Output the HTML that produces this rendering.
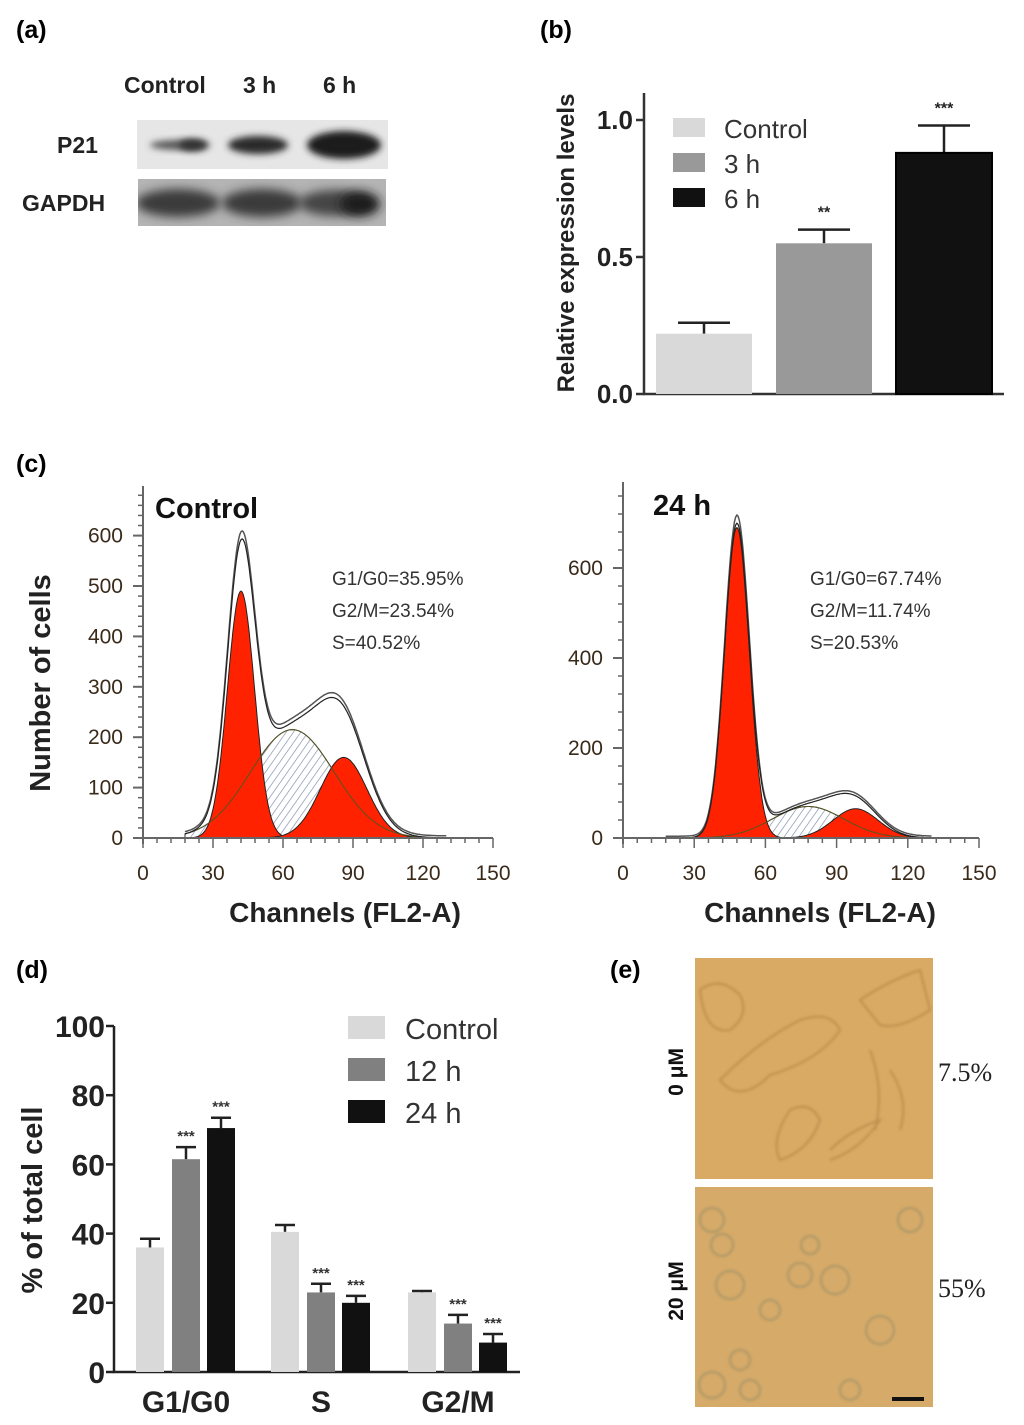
<!DOCTYPE html>
<html><head><meta charset="utf-8"><style>
body{margin:0;background:#fff;}
svg text{font-family:"Liberation Sans",Arial,sans-serif;}
</style></head><body>
<svg id="fig" width="1024" height="1420" viewBox="0 0 1024 1420" xmlns="http://www.w3.org/2000/svg">
<defs>
<filter id="blur3" x="-30%" y="-60%" width="160%" height="220%"><feGaussianBlur stdDeviation="3.5"/></filter>
<filter id="blur5" x="-30%" y="-60%" width="160%" height="220%"><feGaussianBlur stdDeviation="5"/></filter>
<filter id="blur1"><feGaussianBlur stdDeviation="1.2"/></filter>
<pattern id="hatch" width="6" height="6" patternUnits="userSpaceOnUse" patternTransform="rotate(35)"><rect width="6" height="6" fill="#fff"/><line x1="0" y1="0" x2="0" y2="6" stroke="#7a8aa8" stroke-width="1.3"/></pattern>
<clipPath id="clipP21"><rect x="137" y="120" width="251" height="49"/></clipPath>
<clipPath id="clipGAP"><rect x="138" y="179" width="248" height="47"/></clipPath>
</defs>

<!-- Panel a -->
<g>
<text x="16" y="38" font-size="25" font-weight="bold">(a)</text>
<text x="124" y="93" font-size="23" font-weight="bold" fill="#222">Control</text>
<text x="243" y="93" font-size="23" font-weight="bold" fill="#222">3 h</text>
<text x="323" y="93" font-size="23" font-weight="bold" fill="#222">6 h</text>
<text x="57" y="153" font-size="23" font-weight="bold" fill="#222">P21</text>
<text x="22" y="211" font-size="23" font-weight="bold" fill="#222">GAPDH</text>
<g>
<rect x="137" y="120" width="251" height="49" fill="#e6e6e6"/>
<g clip-path="url(#clipP21)">
<ellipse cx="180" cy="145" rx="30" ry="5" fill="#555" filter="url(#blur3)"/>
<ellipse cx="193" cy="145" rx="14" ry="6" fill="#333" filter="url(#blur3)"/>
<ellipse cx="258" cy="145" rx="30" ry="9" fill="#2a2a2a" filter="url(#blur3)"/>
<ellipse cx="344" cy="145" rx="37" ry="14" fill="#1a1a1a" filter="url(#blur3)"/>
</g></g>
<g>
<rect x="138" y="179" width="248" height="47" fill="#b4b4b4"/>
<g clip-path="url(#clipGAP)">
<ellipse cx="178" cy="203" rx="42" ry="14" fill="#3a3a3a" filter="url(#blur5)"/>
<ellipse cx="262" cy="203" rx="40" ry="14" fill="#3a3a3a" filter="url(#blur5)"/>
<ellipse cx="335" cy="203" rx="36" ry="13" fill="#444" filter="url(#blur5)"/>
<ellipse cx="360" cy="204" rx="20" ry="12" fill="#1e1e1e" filter="url(#blur5)"/>
</g></g>
</g>

<!-- Panel b -->
<g id="panelB">
<text x="540" y="38" font-size="25" font-weight="bold">(b)</text>
<text transform="translate(574,243) rotate(-90)" text-anchor="middle" font-size="24" font-weight="bold" fill="#222">Relative expression levels</text>
</g>

<!-- Panel c -->
<g id="panelC">
<text x="16" y="472" font-size="25" font-weight="bold">(c)</text>
<text transform="translate(50,683) rotate(-90)" text-anchor="middle" font-size="29" font-weight="bold" fill="#222">Number of cells</text>
<text x="155" y="518" font-size="29" font-weight="bold" fill="#111">Control</text>
<text x="653" y="515" font-size="29" font-weight="bold" fill="#111">24 h</text>
<text x="332" y="585" font-size="19" fill="#333">G1/G0=35.95%</text>
<text x="332" y="617" font-size="19" fill="#333">G2/M=23.54%</text>
<text x="332" y="649" font-size="19" fill="#333">S=40.52%</text>
<text x="810" y="585" font-size="19" fill="#333">G1/G0=67.74%</text>
<text x="810" y="617" font-size="19" fill="#333">G2/M=11.74%</text>
<text x="810" y="649" font-size="19" fill="#333">S=20.53%</text>
<text x="345" y="922" text-anchor="middle" font-size="28" font-weight="bold" fill="#222">Channels (FL2-A)</text>
<text x="820" y="922" text-anchor="middle" font-size="28" font-weight="bold" fill="#222">Channels (FL2-A)</text>
</g>

<!-- Panel d -->
<g id="panelD">
<text x="16" y="978" font-size="25" font-weight="bold">(d)</text>
<text transform="translate(42,1200) rotate(-90)" text-anchor="middle" font-size="29" font-weight="bold" fill="#222">% of total cell</text>
</g>

<!-- Panel e -->
<g>
<text x="610" y="978" font-size="25" font-weight="bold">(e)</text>
<rect x="695" y="958" width="238" height="221" fill="#d8aa64"/>
<g fill="none" stroke="#b88a48" stroke-width="2" opacity="0.8" filter="url(#blur1)">
<path d="M700 990 q20 -15 40 5 q10 20 -10 35 q-25 5 -30 -40z"/>
<path d="M720 1080 q40 -40 80 -60 q30 -10 40 10 q-20 30 -70 45 q-30 30 -50 5z"/>
<path d="M860 1000 q30 -20 60 -30 l10 40 q-30 20 -50 15z"/>
<path d="M870 1050 q15 40 5 80 M890 1070 q20 30 10 60"/>
<path d="M790 1110 q20 -10 30 10 q-10 30 -40 40 q-10 -20 10 -50z"/>
<path d="M830 1150 q20 -20 50 -30 q-20 30 -50 40"/>
</g>
<rect x="695" y="1187" width="238" height="220" fill="#d6aa68"/>
<g fill="none" stroke="#8e8a6a" stroke-width="2" opacity="0.6" filter="url(#blur1)">
<circle cx="712" cy="1220" r="12"/><circle cx="722" cy="1245" r="11"/><circle cx="730" cy="1285" r="14"/>
<circle cx="800" cy="1275" r="12"/><circle cx="835" cy="1280" r="14"/><circle cx="770" cy="1310" r="10"/>
<circle cx="712" cy="1385" r="13"/><circle cx="740" cy="1360" r="10"/><circle cx="750" cy="1390" r="10"/>
<circle cx="910" cy="1220" r="12"/><circle cx="880" cy="1330" r="14"/><circle cx="850" cy="1390" r="10"/>
<circle cx="810" cy="1245" r="9"/>
</g>
<rect x="892" y="1397" width="32" height="4" fill="#111"/>
<text transform="translate(683,1072) rotate(-90)" text-anchor="middle" font-size="21" font-weight="bold" fill="#111">0 μM</text>
<text transform="translate(683,1291) rotate(-90)" text-anchor="middle" font-size="21" font-weight="bold" fill="#111">20 μM</text>
<text x="938" y="1081" font-size="26" fill="#222" style="font-family:'Liberation Serif',serif">7.5%</text>
<text x="938" y="1297" font-size="26" fill="#222" style="font-family:'Liberation Serif',serif">55%</text>
</g>
</svg>

<script>
// ===== Panel b data =====
const bCategories = ["Control", "3 h", "6 h"];
const bValues = [0.22, 0.55, 0.88];
const bErrors = [0.04, 0.05, 0.10];
const bStars = ["", "**", "***"];
const bTicks = [0.0, 0.5, 1.0];
const bTickLabels = ["0.0", "0.5", "1.0"];

// ===== Panel c data (fitted gaussian components: center channel, height, width) =====
const cCtrlG1 = [42, 490, 5.8];
const cCtrlS = [64, 215, 18];
const cCtrlG2 = [86, 160, 10];
const c24G1 = [48, 690, 5.2];
const c24S = [78, 70, 15];
const c24G2 = [98, 65, 9.5];
const cXTicks = [0, 30, 60, 90, 120, 150];
const cCtrlYTicks = [0, 100, 200, 300, 400, 500, 600];
const c24YTicks = [0, 200, 400, 600];

// ===== Panel d data =====
const dCategories = ["G1/G0", "S", "G2/M"];
const dControl = [36, 40.5, 23];
const d12h = [61.5, 23, 14];
const d24h = [70.5, 20, 8.5];
const dErrControl = [2.5, 2, 0.4];
const dErr12h = [3.5, 2.5, 2.5];
const dErr24h = [3, 2, 2.5];
const dStars12 = ["***", "***", "***"];
const dStars24 = ["***", "***", "***"];
const dTicks = [0, 20, 40, 60, 80, 100];

const NS = "http://www.w3.org/2000/svg";
function mk(parent, tag, attrs, text) {
  const el = document.createElementNS(NS, tag);
  for (const k in attrs) el.setAttribute(k, attrs[k]);
  if (text !== undefined) el.textContent = text;
  parent.appendChild(el);
  return el;
}

// ---------- Panel b ----------
(function () {
  const g = document.getElementById("panelB");
  const y0 = 394, y1 = 120, axX = 644;
  const yS = v => y0 - (y0 - y1) * v;
  const barX = [656, 776, 896], barW = 96;
  const colors = ["#d9d9d9", "#999999", "#111111"];
  const ax = mk(g, "path", { d: `M${axX} 93 V${y0} H1004`, stroke: "#333", "stroke-width": 2.5, fill: "none" });
  
  
  bTicks.forEach((t, i) => {
    const tk = mk(g, "line", { x1: axX - 8, x2: axX, y1: yS(t), y2: yS(t), stroke: "#333", "stroke-width": 2.5 });
    
    
    const tl = mk(g, "text", { x: axX - 11, y: yS(t) + 9, "text-anchor": "end", "font-size": 26, "font-weight": "bold", fill: "#222" }, bTickLabels[i]);
    
    
  });
  bValues.forEach((v, i) => {
    const cx = barX[i] + barW / 2;
    const et = yS(v + bErrors[i]);
    const eb = mk(g, "path", { d: `M${cx} ${yS(v)} V${et} M${cx - 26} ${et} H${cx + 26}`, stroke: "#222", "stroke-width": 2.5, fill: "none" });
    
    
    const r = mk(g, "rect", { x: barX[i], y: yS(v), width: barW, height: y0 - yS(v), fill: colors[i], stroke: i === 2 ? "#000" : "none", "stroke-width": 2 });
    
    
    if (bStars[i]) {
      const s = mk(g, "text", { x: cx, y: et - 12, "text-anchor": "middle", "font-size": 16, "font-weight": "bold", fill: "#222" }, bStars[i]);
      
      
    }
    const ly = 118 + i * 35;
    const sw = mk(g, "rect", { x: 673, y: ly, width: 32, height: 19, fill: colors[i] });
    
    
    const lt = mk(g, "text", { x: 724, y: ly + 20, "font-size": 26, fill: "#333" }, bCategories[i]);
    
    
  });
})();

// ---------- Panel c ----------
function gauss(p, x) { return p[1] * Math.exp(-((x - p[0]) ** 2) / (2 * p[2] * p[2])); }
function histogram(g, cfg) {
  const { axX, axR, y0, yTop, yPer, yTicks, minorStep, G1, S, G2, tag } = cfg;
  const xS = c => axX + (axR - axX) * c / 150;
  const yS = v => y0 - v * yPer;
  const chans = [];
  for (let c = 18; c <= 130; c += 0.5) chans.push(c);
  const curve = (f) => chans.map(c => `${xS(c).toFixed(1)},${yS(f(c)).toFixed(1)}`).join(" L");
  const area = f => `M${xS(18)},${y0} L` + curve(f) + ` L${xS(130)},${y0} Z`;
  const sPath = mk(g, "path", { d: area(c => gauss(S, c)), fill: "url(#hatch)", stroke: "#333", "stroke-width": 1 });
  
  
  const g1 = mk(g, "path", { d: area(c => gauss(G1, c)), fill: "#ff2200", stroke: "#222", "stroke-width": 1 });
  
  
  const g2 = mk(g, "path", { d: area(c => gauss(G2, c)), fill: "#ff2200", stroke: "#222", "stroke-width": 1 });
  
  
  const sLine = mk(g, "path", { d: "M" + curve(c => gauss(S, c)), fill: "none", stroke: "#552", "stroke-width": 1 });
  
  
  const tot = c => gauss(G1, c) + gauss(S, c) + gauss(G2, c);
  const env = mk(g, "path", { d: "M" + curve(c => tot(c) * 1.02 + 4), fill: "none", stroke: "#555", "stroke-width": 1.5 });
  
  
  const env2 = mk(g, "path", { d: "M" + curve(tot), fill: "none", stroke: "#222", "stroke-width": 1.2 });
  
  
  const ax = mk(g, "path", { d: `M${axX} ${yTop} V${y0 + 6} M${axX - 8} ${y0} H${axR}`, stroke: "#666", "stroke-width": 2, fill: "none" });
  
  
  for (let v = 0; yS(v) >= yTop; v += minorStep) {
    const m = mk(g, "line", { x1: axX - 5, x2: axX, y1: yS(v), y2: yS(v), stroke: "#666", "stroke-width": 1.5 });
    
    
  }
  for (let c = 0; c <= 150; c += 6) {
    const m = mk(g, "line", { x1: xS(c), x2: xS(c), y1: y0, y2: y0 + (c % 30 === 0 ? 10 : 5), stroke: "#666", "stroke-width": 1.5 });
    
    
  }
  yTicks.forEach(t => {
    const l = mk(g, "line", { x1: axX - 10, x2: axX, y1: yS(t), y2: yS(t), stroke: "#666", "stroke-width": 2 });
    
    
    const tl = mk(g, "text", { x: axX - 20, y: yS(t) + 7, "text-anchor": "end", "font-size": 21, fill: "#3a2a1a" }, String(t));
    
    
  });
  cXTicks.forEach(t => {
    const tl = mk(g, "text", { x: xS(t), y: y0 + 42, "text-anchor": "middle", "font-size": 21, fill: "#3a2a1a" }, String(t));
    
    
  });
}
(function () {
  const g = document.getElementById("panelC");
  const first = g.querySelector("text:nth-of-type(3)");
  const hg = document.createElementNS(NS, "g");
  g.insertBefore(hg, first);
  histogram(hg, { axX: 143, axR: 493, y0: 838, yTop: 486, yPer: 0.504, yTicks: cCtrlYTicks, minorStep: 20, G1: cCtrlG1, S: cCtrlS, G2: cCtrlG2, tag: "control" });
  histogram(hg, { axX: 623, axR: 979, y0: 838, yTop: 482, yPer: 0.45, yTicks: c24YTicks, minorStep: 40, G1: c24G1, S: c24S, G2: c24G2, tag: "h24" });
})();

// ---------- Panel d ----------
(function () {
  const g = document.getElementById("panelD");
  const y0 = 1372, y1 = 1026, axX = 114;
  const yS = v => y0 - (y0 - y1) * v / 100;
  const groupX = [136, 271, 408], offs = [0, 36, 71], bw = 28;
  const colors = ["#d9d9d9", "#808080", "#111111"];
  const series = [dControl, d12h, d24h];
  const errs = [dErrControl, dErr12h, dErr24h];
  const stars = [null, dStars12, dStars24];
  const ax = mk(g, "path", { d: `M${axX} ${y1} V${y0} H520`, stroke: "#222", "stroke-width": 2.5, fill: "none" });
  
  
  dTicks.forEach(t => {
    const tk = mk(g, "line", { x1: axX - 8, x2: axX, y1: yS(t), y2: yS(t), stroke: "#222", "stroke-width": 2.5 });
    
    
    const tl = mk(g, "text", { x: axX - 9, y: yS(t) + 11, "text-anchor": "end", "font-size": 30, "font-weight": "bold", fill: "#222" }, String(t));
    
    
  });
  dCategories.forEach((cat, ci) => {
    series.forEach((s, si) => {
      const x = groupX[ci] + offs[si], v = s[ci], cx = x + bw / 2;
      const et = yS(v + errs[si][ci]);
      const eb = mk(g, "path", { d: `M${cx} ${yS(v)} V${et} M${cx - 10} ${et} H${cx + 10}`, stroke: "#222", "stroke-width": 2.5, fill: "none" });
      
      
      const r = mk(g, "rect", { x: x, y: yS(v), width: bw, height: y0 - yS(v), fill: colors[si] });
      
      
      if (stars[si]) {
        const st = mk(g, "text", { x: cx, y: et - 6, "text-anchor": "middle", "font-size": 15, "font-weight": "bold", fill: "#333" }, stars[si][ci]);
        
        
      }
    });
    const xl = mk(g, "text", { x: groupX[ci] + 50, y: 1412, "text-anchor": "middle", "font-size": 30, "font-weight": "bold", fill: "#222" }, cat);
    
    
  });
  ["Control", "12 h", "24 h"].forEach((n, i) => {
    const ly = 1016 + i * 42;
    const sw = mk(g, "rect", { x: 348, y: ly, width: 37, height: 23, fill: colors[i] });
    
    
    const lt = mk(g, "text", { x: 405, y: ly + 23, "font-size": 29, fill: "#333" }, n);
    
    
  });
})();
</script>
</body></html>
